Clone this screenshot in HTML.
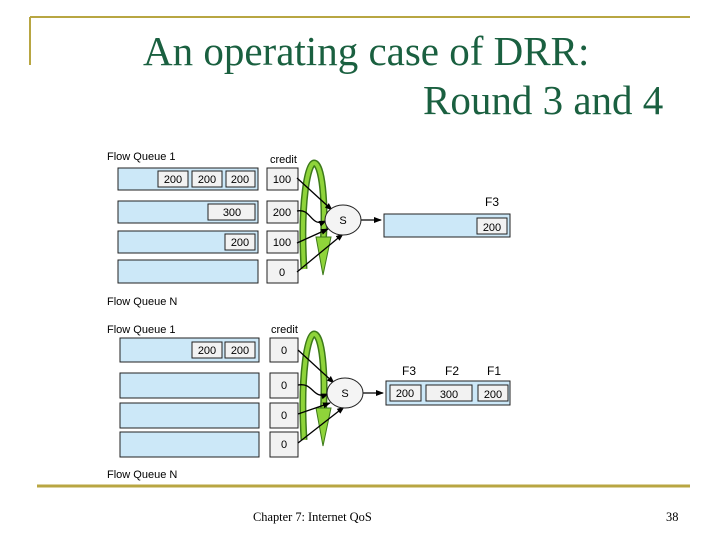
<!DOCTYPE html>
<html><head><meta charset="utf-8"><style>
html,body{margin:0;padding:0;background:#fff;}
svg{display:block;}
text{font-family:"Liberation Sans",sans-serif;}
</style></head><body>
<svg width="720" height="540" viewBox="0 0 720 540" xmlns="http://www.w3.org/2000/svg">
<defs>
<marker id="ah" markerWidth="8" markerHeight="8" refX="7" refY="4" orient="auto" markerUnits="userSpaceOnUse"><path d="M0,1 L8,4 L0,7z" fill="#000"/></marker>
<g id="arc">
<path d="M304,108 C300,40 308,2 314,2 C322,2 326,40 323,86" fill="none" stroke="#3d7a1a" stroke-width="7"/>
<path d="M304,108 C300,40 308,2 314,2 C322,2 326,40 323,86" fill="none" stroke="#8fd43a" stroke-width="4"/>
<path d="M316,76 L331,76 L323,114z" fill="#8fd43a" stroke="#3d7a1a" stroke-width="1"/>
</g>
</defs>
<line x1="30" y1="17" x2="690" y2="17" stroke="#b8a642" stroke-width="2"/>
<line x1="30" y1="17" x2="30" y2="65" stroke="#b8a642" stroke-width="2"/>
<line x1="37" y1="486" x2="690" y2="486" stroke="#b8a642" stroke-width="3"/>
<text x="143" y="65" font-size="41" fill="#1a6040" style="font-family:'Liberation Serif',serif">An operating case of DRR:</text>
<text x="423" y="114" font-size="41" fill="#1a6040" style="font-family:'Liberation Serif',serif">Round 3 and 4</text>
<text x="253" y="521" font-size="12.4" style="font-family:'Liberation Serif',serif">Chapter 7: Internet QoS</text>
<text x="666" y="521" font-size="12.4" style="font-family:'Liberation Serif',serif">38</text>

<g font-size="11">
<text x="107" y="160">Flow Queue 1</text>
<text x="270" y="163">credit</text>
<text x="107" y="305">Flow Queue N</text>
<g fill="#cce8f8" stroke="#222" stroke-width="1">
<rect x="118" y="168" width="140" height="22"/>
<rect x="118" y="201" width="140" height="22"/>
<rect x="118" y="231" width="140" height="22"/>
<rect x="118" y="260" width="140" height="23"/>
<rect x="384" y="214" width="126" height="23"/>
</g>
<g fill="#f2f2f2" stroke="#222" stroke-width="1">
<rect x="158" y="171" width="30" height="16"/><rect x="192" y="171" width="30" height="16"/><rect x="226" y="171" width="29" height="16"/>
<rect x="208" y="204" width="47" height="16"/>
<rect x="225" y="234" width="30" height="16"/>
<rect x="477" y="218" width="30" height="16"/>
<rect x="267" y="168" width="31" height="22"/><rect x="267" y="201" width="31" height="22"/>
<rect x="267" y="231" width="31" height="22"/><rect x="267" y="260" width="31" height="23"/>
</g>
<g text-anchor="middle">
<text x="173" y="183">200</text><text x="207" y="183">200</text><text x="240" y="183">200</text>
<text x="232" y="216">300</text><text x="240" y="246">200</text><text x="492" y="231">200</text>
<text x="282" y="183">100</text><text x="282" y="216">200</text><text x="282" y="246">100</text><text x="282" y="276">0</text>
<text x="492" y="206" font-size="12">F3</text>
</g>
<use href="#arc" transform="translate(0,161)"/>
<g stroke="#000" stroke-width="1.3" fill="none">
<line x1="297" y1="178" x2="332" y2="210" marker-end="url(#ah)"/>
<path d="M297,211 C312,208 310,228 326,221" marker-end="url(#ah)"/>
<line x1="297" y1="243" x2="328" y2="229" marker-end="url(#ah)"/>
<line x1="297" y1="272" x2="343" y2="234" marker-end="url(#ah)"/>
<line x1="361" y1="220" x2="381" y2="220" marker-end="url(#ah)"/>
</g>
<ellipse cx="343" cy="220" rx="18" ry="15" fill="#f4f4f4" stroke="#222"/>
<text x="343" y="224" text-anchor="middle">S</text>

<text x="107" y="333">Flow Queue 1</text>
<text x="271" y="333">credit</text>
<text x="107" y="478">Flow Queue N</text>
<g fill="#cce8f8" stroke="#222" stroke-width="1">
<rect x="120" y="338" width="139" height="24"/>
<rect x="120" y="373" width="139" height="25"/>
<rect x="120" y="403" width="139" height="25"/>
<rect x="120" y="432" width="139" height="25"/>
<rect x="386" y="381" width="124" height="24"/>
</g>
<g fill="#f2f2f2" stroke="#222" stroke-width="1">
<rect x="192" y="342" width="30" height="16"/><rect x="225" y="342" width="30" height="16"/>
<rect x="390" y="385" width="31" height="16"/><rect x="426" y="385" width="46" height="16"/><rect x="478" y="385" width="30" height="16"/>
<rect x="270" y="338" width="28" height="24"/><rect x="270" y="373" width="28" height="25"/>
<rect x="270" y="403" width="28" height="25"/><rect x="270" y="432" width="28" height="25"/>
</g>
<g text-anchor="middle">
<text x="207" y="354">200</text><text x="240" y="354">200</text>
<text x="405" y="397">200</text><text x="449" y="398">300</text><text x="493" y="398">200</text>
<text x="284" y="354">0</text><text x="284" y="389">0</text><text x="284" y="419">0</text><text x="284" y="448">0</text>
<text x="409" y="375" font-size="12">F3</text><text x="452" y="375" font-size="12">F2</text><text x="494" y="375" font-size="12">F1</text>
</g>
<use href="#arc" transform="translate(0,332)"/>
<g stroke="#000" stroke-width="1.3" fill="none">
<line x1="298" y1="350" x2="334" y2="383" marker-end="url(#ah)"/>
<path d="M298,385 C314,382 312,400 328,394" marker-end="url(#ah)"/>
<line x1="298" y1="414" x2="330" y2="403" marker-end="url(#ah)"/>
<line x1="298" y1="443" x2="344" y2="407" marker-end="url(#ah)"/>
<line x1="363" y1="393" x2="383" y2="393" marker-end="url(#ah)"/>
</g>
<ellipse cx="345" cy="393" rx="18" ry="15" fill="#f4f4f4" stroke="#222"/>
<text x="345" y="397" text-anchor="middle">S</text>
</g>
</svg>
</body></html>
